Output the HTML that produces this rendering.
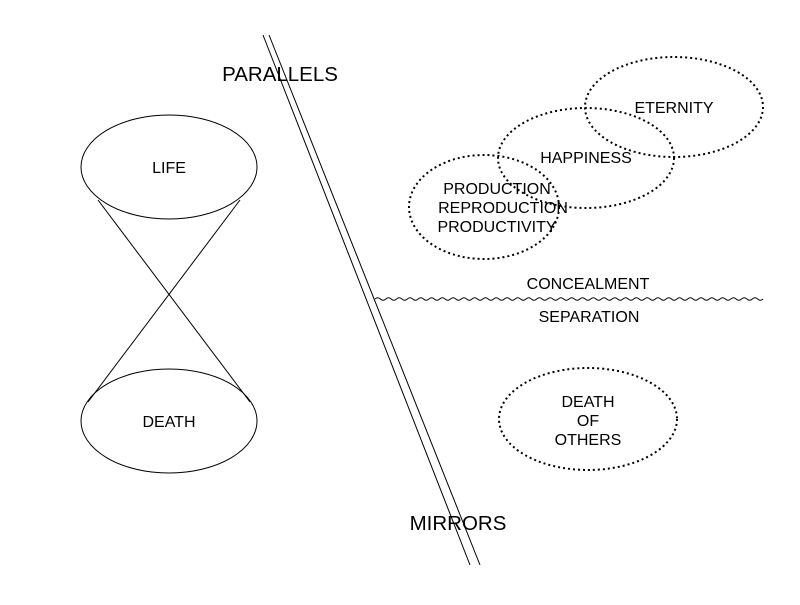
<!DOCTYPE html>
<html><head><style>body{margin:0;background:#fff}</style></head><body>
<svg width="800" height="600" xmlns="http://www.w3.org/2000/svg" font-family="Liberation Sans, Arial, sans-serif" font-size="16" fill="none" stroke="#000">
<line x1="263" y1="35" x2="470" y2="565" stroke-width="1"/>
<line x1="269" y1="35" x2="480" y2="565" stroke-width="1"/>
<ellipse cx="169" cy="167" rx="88" ry="52"/>
<ellipse cx="169" cy="421" rx="88" ry="52"/>
<line x1="98" y1="200" x2="250" y2="402"/>
<line x1="240" y1="200" x2="88" y2="402"/>
<g stroke-dasharray="2,3" stroke-width="2">
<ellipse cx="674" cy="107" rx="89" ry="50"/>
<ellipse cx="586" cy="158" rx="88" ry="50"/>
<ellipse cx="484" cy="207" rx="75" ry="52"/>
<ellipse cx="588" cy="419" rx="89" ry="51"/>
</g>
<path stroke-width="1" transform="translate(375,0) scale(0.98,1) translate(-375,0)" d="M375,299 q2.75,-2.5 5.5,0 t5.5,0 t5.5,0 t5.5,0 t5.5,0 t5.5,0 t5.5,0 t5.5,0 t5.5,0 t5.5,0 t5.5,0 t5.5,0 t5.5,0 t5.5,0 t5.5,0 t5.5,0 t5.5,0 t5.5,0 t5.5,0 t5.5,0 t5.5,0 t5.5,0 t5.5,0 t5.5,0 t5.5,0 t5.5,0 t5.5,0 t5.5,0 t5.5,0 t5.5,0 t5.5,0 t5.5,0 t5.5,0 t5.5,0 t5.5,0 t5.5,0 t5.5,0 t5.5,0 t5.5,0 t5.5,0 t5.5,0 t5.5,0 t5.5,0 t5.5,0 t5.5,0 t5.5,0 t5.5,0 t5.5,0 t5.5,0 t5.5,0 t5.5,0 t5.5,0 t5.5,0 t5.5,0 t5.5,0 t5.5,0 t5.5,0 t5.5,0 t5.5,0 t5.5,0 t5.5,0 t5.5,0 t5.5,0 t5.5,0 t5.5,0 t5.5,0 t5.5,0 t5.5,0 t5.5,0 t5.5,0 t5.5,0 t5.5,0"/>
<g fill="#000" stroke="none" text-anchor="middle">
<text x="280" y="81" font-size="20.5">PARALLELS</text>
<text x="458" y="530" font-size="20.5">MIRRORS</text>
<text x="169" y="173">LIFE</text>
<text x="169" y="427">DEATH</text>
<text x="674" y="113">ETERNITY</text>
<text x="586" y="163">HAPPINESS</text>
<text x="497" y="194">PRODUCTION</text>
<text x="503" y="213">REPRODUCTION</text>
<text x="497" y="232">PRODUCTIVITY</text>
<text x="588" y="289">CONCEALMENT</text>
<text x="589" y="322">SEPARATION</text>
<text x="588" y="407">DEATH</text>
<text x="588" y="426">OF</text>
<text x="588" y="445">OTHERS</text>
</g>
</svg>
</body></html>
